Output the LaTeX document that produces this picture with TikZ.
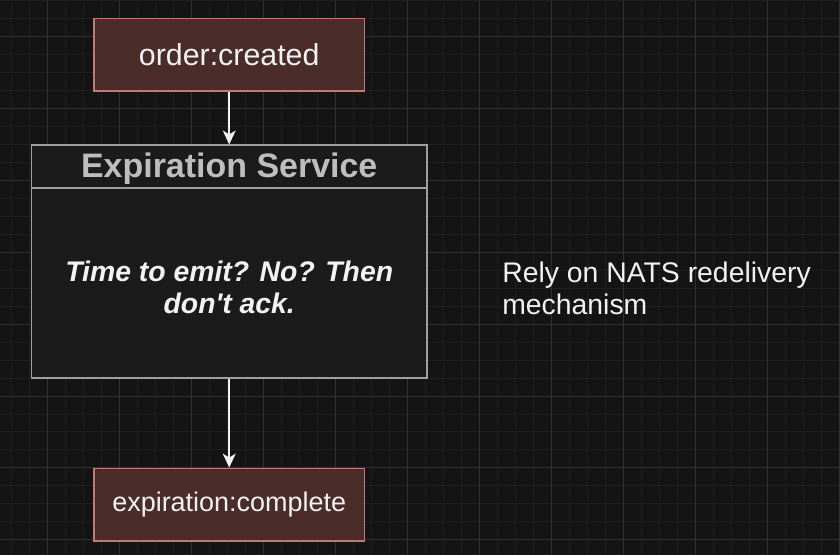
\documentclass[tikz,border=0pt]{standalone}
\usepackage{fontspec}
\setmainfont{Liberation Sans}
\usepackage{xcolor}
\usepackage{tikz}
\usetikzlibrary{arrows.meta,positioning}

\definecolor{bgdark}{HTML}{141414}
\definecolor{gridminor}{HTML}{1F1F1F}
\definecolor{gridmajor}{HTML}{303030}
\definecolor{evtfill}{HTML}{4A2D2B}
\definecolor{evtline}{HTML}{C27A75}
\definecolor{svcfill}{HTML}{1B1B1B}
\definecolor{svcline}{HTML}{A0A0A0}
\definecolor{svchead}{HTML}{BEBEBE}
\definecolor{txtwhite}{HTML}{F2F2F2}

\begin{document}
\begin{tikzpicture}[x=0.5pt,y=-0.5pt,
    evt/.style={rectangle,draw=evtline,fill=evtfill,line width=0.9pt,
        minimum width=135.5pt,minimum height=36.5pt,inner sep=0pt,
        text=txtwhite,font=\fontsize{15.2}{18}\selectfont},
    svcbox/.style={rectangle,draw=svcline,fill=svcfill,line width=0.9pt,
        minimum width=198pt,minimum height=116.5pt,inner sep=0pt},
    flow/.style={draw=txtwhite,line width=0.8pt,-{Stealth[length=7pt,width=6.5pt,inset=2pt]}}]

    % fond et grille
    \fill[bgdark] (0,0) rectangle (840,554);
    \foreach \x in {11.5,29.5,...,840} \draw[gridminor,line width=0.5pt] (\x,0) -- (\x,554);
    \foreach \y in {-1,17,...,554} \draw[gridminor,line width=0.5pt] (0,\y) -- (840,\y);
    \foreach \x in {47.5,119.5,...,840} \draw[gridmajor,line width=0.5pt] (\x,0) -- (\x,554);
    \foreach \y in {35,107,...,554} \draw[gridmajor,line width=0.5pt] (0,\y) -- (840,\y);
    \useasboundingbox (0,0) rectangle (840,554);

    % evenements
    \node[evt] (created) at (229,53.5) {order:created};
    \node[evt,font=\fontsize{13.5}{16}\selectfont] (complete) at (229,504) {expiration:complete};

    % service
    \node[svcbox] (svc) at (229,260.5) {};
    \draw[svcline,line width=1pt] ([yshift=-22pt]svc.north west) -- ([yshift=-22pt]svc.north east);
    \node[text=svchead,font=\bfseries\fontsize{17}{20}\selectfont] (svctitle) at (229,167.5) {Expiration Service};
    \node[text=txtwhite,align=center,font=\bfseries\itshape\fontsize{14.2}{16}\selectfont] (svcbody) at (229,286)
        {Time to emit? No? Then\\don\textquotesingle t ack.};

    % note
    \node[text=txtwhite,align=left,anchor=west,inner sep=0pt,font=\fontsize{14.2}{16}\selectfont] (note) at (502,287)
        {Rely on NATS redelivery\\mechanism};

    % fleches
    \draw[flow] (created) -- (svc);
    \draw[flow] (svc) -- (complete);
\end{tikzpicture}
\end{document}
